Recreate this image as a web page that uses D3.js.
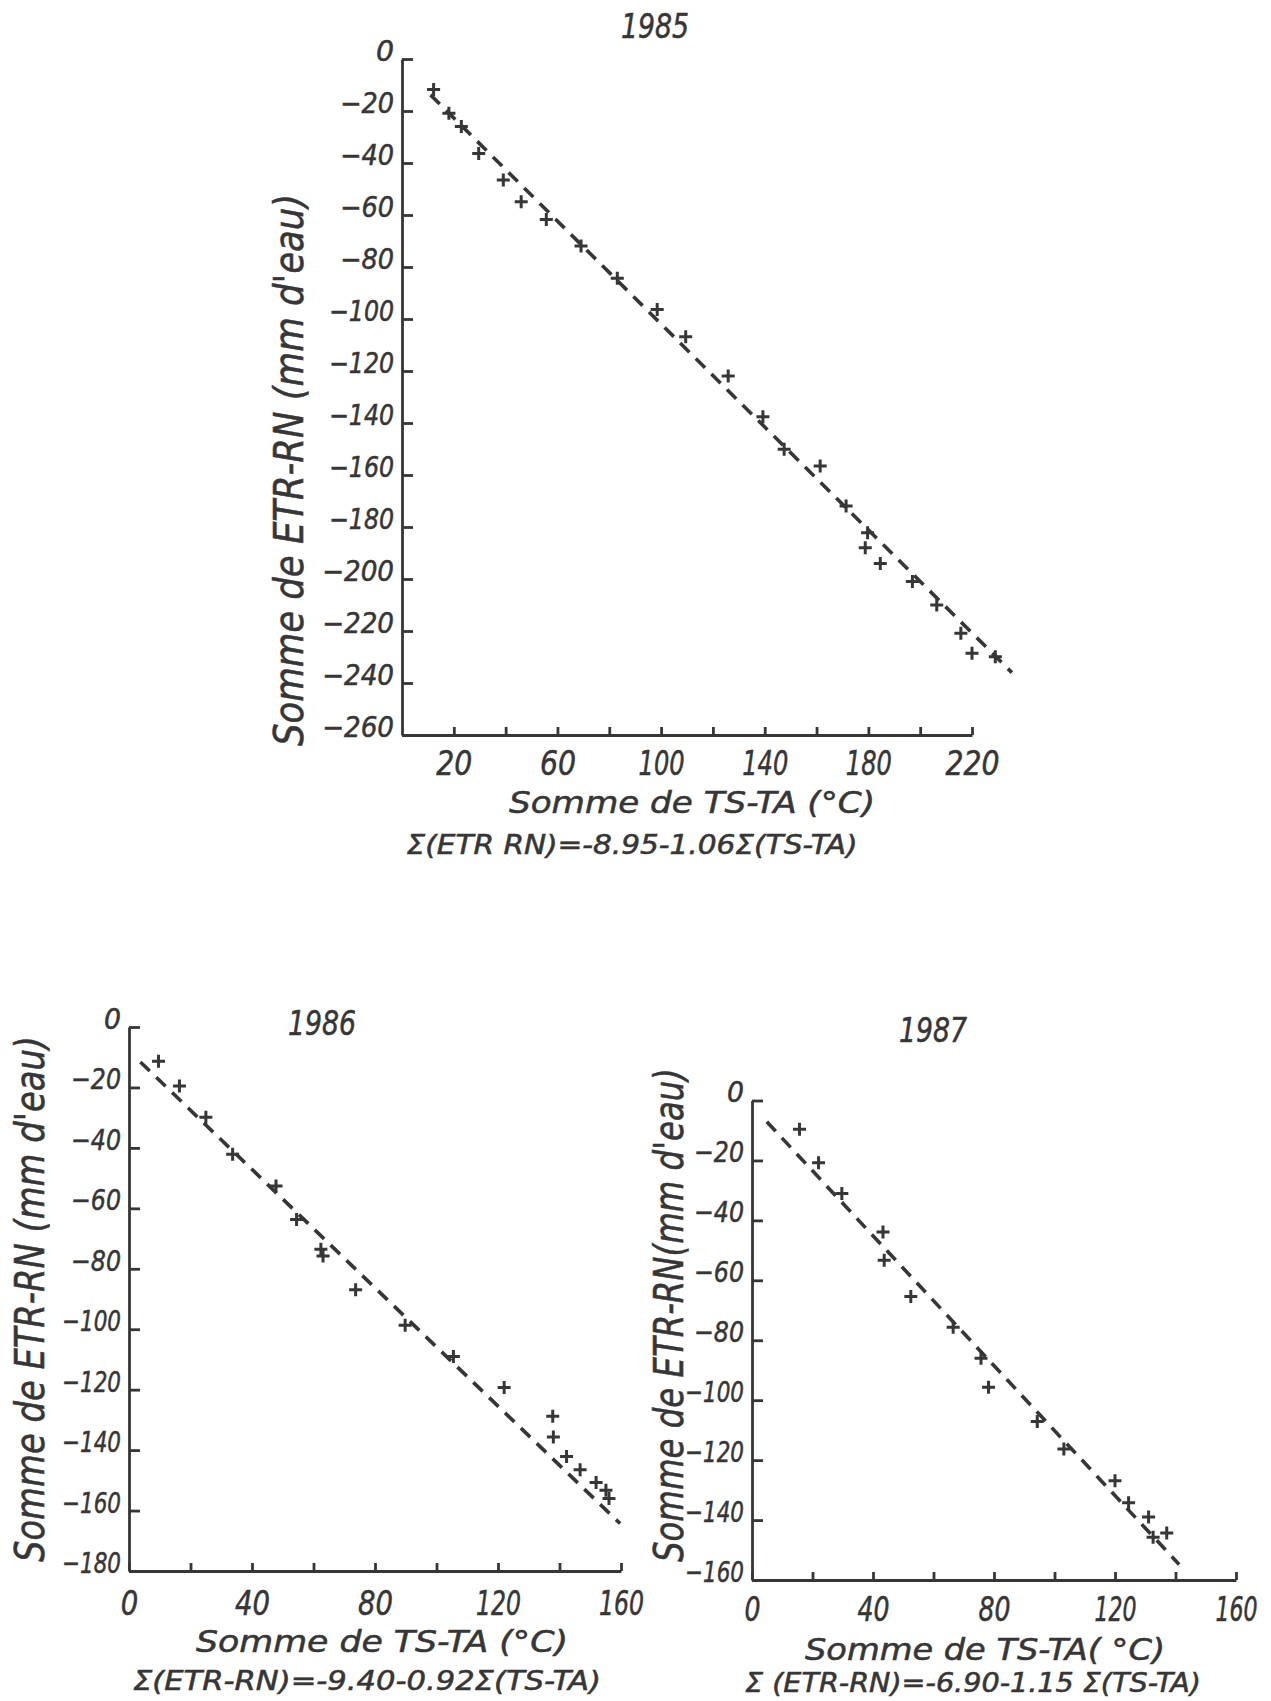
<!DOCTYPE html>
<html><head><meta charset="utf-8">
<script src="https://cdn.jsdelivr.net/npm/d3@7"></script>
<style>
body{margin:0;background:#fff;}
svg text{font-family:"DejaVu Sans Condensed","DejaVu Sans",sans-serif;font-style:italic;fill:#363636;stroke:#363636;stroke-width:0.5px;}
</style></head><body>
<svg id="c" width="1271" height="1701"></svg>
<script>
const INK = "#363636";

// ---------- 1985 ----------
const x85 = [12.2,18.1,22.9,29.6,39.1,46.0,55.7,69.1,83.1,98.5,109.5,125.9,139.3,147.5,161.4,171.4,179.7,178.8,184.6,197.0,206.4,215.7,220.0,229.0];
const y85 = [-11.7,-20.9,-26.0,-36.3,-46.5,-54.9,-61.7,-71.9,-84.3,-96.3,-106.8,-121.9,-137.6,-150.1,-156.5,-171.9,-182.2,-188.0,-194.0,-201.0,-210.0,-220.9,-228.6,-229.9];
const fitX85 = [11.0, 235.4];
const fitY85 = [-13.8, -236.0];
const xTicks85 = [20,40,60,80,100,120,140,160,180,200,220];
const xLabels85 = [20,60,100,140,180,220];
const yTicks85 = [0,-20,-40,-60,-80,-100,-120,-140,-160,-180,-200,-220,-240,-260];

// ---------- 1986 ----------
const x86 = [9.6,16.4,25.0,33.7,47.8,54.5,62.4,63.1,73.7,89.8,105.5,122.0,137.8,138.0,142.3,146.7,151.9,155.1,156.1];
const y86 = [-11.3,-19.5,-29.9,-42.1,-52.6,-63.7,-73.5,-75.8,-86.9,-98.7,-109.0,-119.3,-128.8,-135.7,-142.1,-146.5,-150.7,-153.3,-156.0];
const fitX86 = [3.7, 159.7];
const fitY86 = [-11.6, -164.3];
const xTicks86 = [0,20,40,60,80,100,120,140,160];
const xLabels86 = [0,40,80,120,160];
const yTicks86 = [0,-20,-40,-60,-80,-100,-120,-140,-160,-180];

// ---------- 1987 ----------
const x87 = [15.7,22.0,29.7,43.3,43.7,52.5,66.5,75.7,78.2,94.3,103.1,120.0,124.5,131.1,132.6,137.1];
const y87 = [-9.6,-20.8,-31.0,-43.9,-53.3,-65.4,-75.7,-86.0,-95.7,-107.1,-116.3,-126.9,-134.2,-139.0,-145.7,-144.3];
const fitX87 = [4.9, 141.2];
const fitY87 = [-7.1, -154.8];
const xTicks87 = [0,20,40,60,80,100,120,140,160];
const xLabels87 = [0,40,80,120,160];
const yTicks87 = [0,-20,-40,-60,-80,-100,-120,-140,-160];

const titles = ["1985","1986","1987"];
const yTitles = ["Somme de ETR-RN (mm d'eau)","Somme de ETR-RN (mm d'eau)","Somme de ETR-RN(mm d'eau)"];
const xTitles = ["Somme de TS-TA (°C)","Somme de TS-TA (°C)","Somme de TS-TA( °C)"];
const equations = ["Σ(ETR RN)=-8.95-1.06Σ(TS-TA)","Σ(ETR-RN)=-9.40-0.92Σ(TS-TA)","Σ (ETR-RN)=-6.90-1.15 Σ(TS-TA)"];

const panels = [
  {xs:x85, ys:y85, fx:fitX85, fy:fitY85, xt:xTicks85, xl:xLabels85, yt:yTicks85,
   xDom:[0,220], xRange:[402,972], yDom:[0,-260], yRange:[59,735],
   title:{x:655,y:38}, yT:{x:303,y:470,len:552}, xT:{x:692,y:813,len:366,fs:31},
   eq:{x:632,y:854,len:451}, xBase:40, xFs:33, yFs:28,
   yw:{m:18,d:18,o:11}, xw:{d:18,o:10}},
  {xs:x86, ys:y86, fx:fitX86, fy:fitY86, xt:xTicks86, xl:xLabels86, yt:yTicks86,
   xDom:[0,160], xRange:[129,621], yDom:[0,-180], yRange:[1027,1571],
   title:{x:322,y:1035}, yT:{x:44,y:1299,len:526}, xT:{x:382,y:1652,len:372,fs:30},
   eq:{x:367,y:1690,len:468}, xBase:44, xFs:34, yFs:29,
   yw:{m:16,d:17,o:9}, xw:{d:17.5,o:10}},
  {xs:x87, ys:y87, fx:fitX87, fy:fitY87, xt:xTicks87, xl:xLabels87, yt:yTicks87,
   xDom:[0,160], xRange:[752,1236], yDom:[0,-160], yRange:[1100.5,1580],
   title:{x:933,y:1042}, yT:{x:683,y:1315,len:494}, xT:{x:985,y:1660,len:360,fs:30},
   eq:{x:973,y:1692,len:456}, xBase:41, xFs:33, yFs:29,
   yw:{m:16,d:17,o:9}, xw:{d:16,o:10}}
];

const fmt = d => (d < 0 ? "\u2212" : "") + Math.abs(d);
function width(s, w) {
  let t = 0;
  for (const c of s) t += (c === "\u2212") ? (w.m || 0) : (c === "1" ? w.o : w.d);
  return t;
}

const svg = d3.select("#c");
svg.append("rect").attr("width",1271).attr("height",1701).attr("fill","#fff");

panels.forEach((p,i) => {
  const x = d3.scaleLinear().domain(p.xDom).range(p.xRange);
  const y = d3.scaleLinear().domain(p.yDom).range(p.yRange);
  const g = svg.append("g");

  // y axis
  const ya = g.append("g").attr("transform",`translate(${p.xRange[0]},0)`)
    .call(d3.axisLeft(y).tickValues(p.yt).tickFormat(fmt).tickSizeInner(-11).tickSizeOuter(0).tickPadding(8));
  // x axis
  const xa = g.append("g").attr("transform",`translate(0,${p.yRange[1]})`)
    .call(d3.axisBottom(x).tickValues(p.xt).tickSizeInner(-8).tickSizeOuter(0)
      .tickFormat(d => p.xl.includes(d) ? fmt(d) : ""));
  [ya,xa].forEach(a => {
    a.attr("font-family",null).attr("font-size",null);
    a.selectAll("path,line").attr("stroke",INK).attr("stroke-width",2.8);
  });
  ya.selectAll("text").style("font-size",p.yFs+"px").attr("dy","0.05em").attr("x",-8)
    .each(function(){ const s=this.textContent; if(s) d3.select(this).attr("textLength",width(s,p.yw)).attr("lengthAdjust","spacingAndGlyphs"); });
  xa.selectAll("text").style("font-size",p.xFs+"px").attr("dy",null).attr("y",p.xBase)
    .each(function(){ const s=this.textContent; if(s) d3.select(this).attr("textLength",width(s,p.xw)).attr("lengthAdjust","spacingAndGlyphs"); });

  // fit line
  const pts = p.fx.map((v,k)=>[v,p.fy[k]]);
  g.append("path").datum(pts)
    .attr("d", d3.line().x(d=>x(d[0])).y(d=>y(d[1])))
    .attr("fill","none").attr("stroke",INK).attr("stroke-width",3.6)
    .attr("stroke-dasharray","13,9");

  // points
  g.selectAll(".pt").data(p.xs.map((v,k)=>[v,p.ys[k]])).join("path")
    .attr("class","pt")
    .attr("transform", d=>`translate(${x(d[0])},${y(d[1])})`)
    .attr("d","M-6.5,0H6.5M0,-6.5V6.5")
    .attr("stroke",INK).attr("stroke-width",3).attr("fill","none");

  // title
  g.append("text").attr("x",p.title.x).attr("y",p.title.y)
    .attr("text-anchor","middle").style("font-size","33px")
    .attr("textLength",68).attr("lengthAdjust","spacingAndGlyphs").text(titles[i]);

  // y title
  g.append("text")
    .attr("transform",`translate(${p.yT.x},${p.yT.y}) rotate(-90)`)
    .attr("text-anchor","middle").style("font-size","40px")
    .attr("textLength",p.yT.len).attr("lengthAdjust","spacingAndGlyphs")
    .text(yTitles[i]);

  // x title
  g.append("text").attr("x",p.xT.x).attr("y",p.xT.y)
    .attr("text-anchor","middle").style("font-size",p.xT.fs+"px")
    .attr("textLength",p.xT.len).attr("lengthAdjust","spacingAndGlyphs")
    .text(xTitles[i]);

  // equation
  g.append("text").attr("x",p.eq.x).attr("y",p.eq.y)
    .attr("text-anchor","middle").style("font-size","26px")
    .attr("textLength",p.eq.len).attr("lengthAdjust","spacingAndGlyphs")
    .text(equations[i]);
});
</script>
</body></html>
